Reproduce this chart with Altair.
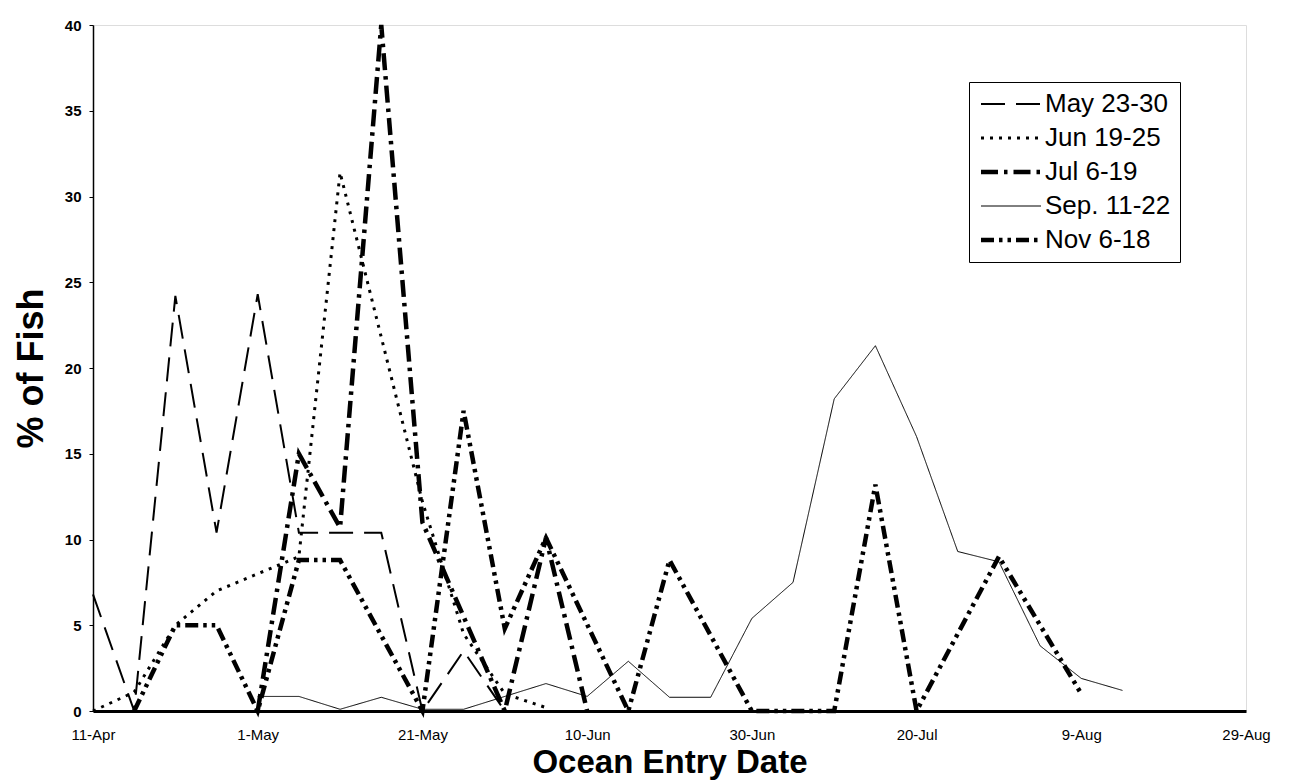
import altair as alt
import pandas as pd

# ---- data ----
series_names = ["May 23-30", "Jun 19-25", "Jul 6-19", "Sep. 11-22", "Nov 6-18"]

may_dates = ["2001-04-11", "2001-04-16", "2001-04-21", "2001-04-26", "2001-05-01", "2001-05-06",
             "2001-05-11", "2001-05-16", "2001-05-21", "2001-05-26", "2001-05-31"]
may_vals = [6.8, 0.0, 24.2, 10.4, 24.3, 10.4, 10.4, 10.4, 0.0, 3.5, 0.0]

jun_dates = ["2001-04-11", "2001-04-16", "2001-04-21", "2001-04-26", "2001-05-01", "2001-05-06",
             "2001-05-11", "2001-05-16", "2001-05-21", "2001-05-26", "2001-05-31", "2001-06-05"]
jun_vals = [0.0, 1.1, 5.0, 7.0, 8.0, 9.0, 31.4, 21.8, 12.2, 4.5, 1.0, 0.2]

jul_dates = ["2001-05-01", "2001-05-06", "2001-05-11", "2001-05-16", "2001-05-21", "2001-05-31",
             "2001-06-05", "2001-06-10"]
jul_vals = [0.0, 15.0, 10.7, 40.0, 11.0, 0.0, 10.1, 0.0]

sep_dates = ["2001-05-01", "2001-05-06", "2001-05-11", "2001-05-16", "2001-05-21", "2001-05-26",
             "2001-06-05", "2001-06-10", "2001-06-15", "2001-06-20", "2001-06-25", "2001-06-30",
             "2001-07-05", "2001-07-10", "2001-07-15", "2001-07-20", "2001-07-25", "2001-07-30",
             "2001-08-04", "2001-08-09", "2001-08-14"]
sep_vals = [0.85, 0.85, 0.1, 0.8, 0.1, 0.1, 1.6, 0.85, 2.9, 0.8, 0.8, 5.4, 7.5, 18.2, 21.3,
            16.0, 9.3, 8.7, 3.8, 1.9, 1.2]

nov_dates = ["2001-04-16", "2001-04-21", "2001-04-26", "2001-05-01", "2001-05-06", "2001-05-11",
             "2001-05-21", "2001-05-26", "2001-05-31", "2001-06-05", "2001-06-15", "2001-06-20",
             "2001-06-30", "2001-07-10", "2001-07-15", "2001-07-20", "2001-07-30", "2001-08-09"]
nov_vals = [0.0, 5.0, 5.0, 0.0, 8.8, 8.8, 0.0, 17.5, 4.8, 10.1, 0.0, 8.8, 0.0, 0.0, 13.2,
            0.0, 9.0, 1.0]

tick_dates = ["2001-04-11", "2001-05-01", "2001-05-21", "2001-06-10", "2001-06-30",
              "2001-07-20", "2001-08-09", "2001-08-29"]
y_ticks = [0, 5, 10, 15, 20, 25, 30, 35, 40]

# ---- styles ----
dash_patterns = [[24, 11], [3, 6], [17, 6, 3.5, 6], [1, 0], [13, 5, 3.5, 5, 3.5, 5]]
line_widths = [2, 3, 4.5, 1, 4.5]

rows = []
for name, ds, vs in [("May 23-30", may_dates, may_vals), ("Jun 19-25", jun_dates, jun_vals),
                     ("Jul 6-19", jul_dates, jul_vals), ("Sep. 11-22", sep_dates, sep_vals),
                     ("Nov 6-18", nov_dates, nov_vals)]:
    for d, v in zip(ds, vs):
        rows.append({"series": name, "date": d, "value": v})
df = pd.DataFrame(rows)


def dt(s):
    y, m, d = map(int, s.split("-"))
    return alt.DateTime(year=y, month=m, date=d, utc=True)


FONT = "Liberation Sans"

legend = alt.Legend(
    title=None, orient="none", legendX=876, legendY=57,
    symbolType="M-1,0H5", symbolSize=400, symbolStrokeColor="black",
    symbolFillColor="transparent",
    labelFont=FONT, labelFontSize=26, labelColor="black", labelOffset=41,
    rowPadding=8, padding=9, fillColor="white", strokeColor="black",
    labelLimit=300,
)

chart = alt.Chart(df).mark_line(color="black", strokeCap="butt", strokeJoin="miter").encode(
    x=alt.X(
        "date:T",
        scale=alt.Scale(type="utc", domain=[dt(tick_dates[0]), dt(tick_dates[-1])]),
        axis=alt.Axis(
            values=[dt(s) for s in tick_dates],
            labelExpr="utcFormat(datum.value, '%-d-%b')",
            labelFont=FONT, labelFontSize=15, labelColor="black", labelPadding=16,
            ticks=False, labelFlush=False, labelOverlap=False,
            domainColor="black", domainWidth=3, grid=False,
            title="Ocean Entry Date", titleFont=FONT, titleFontSize=33,
            titleFontWeight="bold", titleColor="black", titlePadding=4,
        ),
    ),
    y=alt.Y(
        "value:Q",
        scale=alt.Scale(domain=[0, 40], nice=False),
        axis=alt.Axis(
            values=y_ticks, labelFont=FONT, labelFontSize=15, labelFontWeight="bold",
            labelColor="black", labelPadding=8, tickSize=4, tickColor="black",
            domainColor="black", domainWidth=1.5, grid=False,
            title="% of Fish", titleFont=FONT, titleFontSize=36, titleFontWeight="bold",
            titleColor="black", titlePadding=14,
        ),
    ),
    detail="series:N",
    strokeDash=alt.StrokeDash(
        "series:N",
        scale=alt.Scale(domain=series_names, range=dash_patterns),
        legend=legend,
    ),
    strokeWidth=alt.StrokeWidth(
        "series:N",
        scale=alt.Scale(type="ordinal", domain=series_names, range=line_widths),
        legend=legend,
    ),
).properties(
    width=1153, height=686,
    autosize=alt.AutoSizeParams(type="none"),
    padding={"left": 85, "top": 17, "right": 36, "bottom": 70},
).configure_view(
    stroke="black", strokeWidth=1.5
).configure(background="white")

chart.save("out.html", embed_options={"renderer": "svg", "actions": False})
